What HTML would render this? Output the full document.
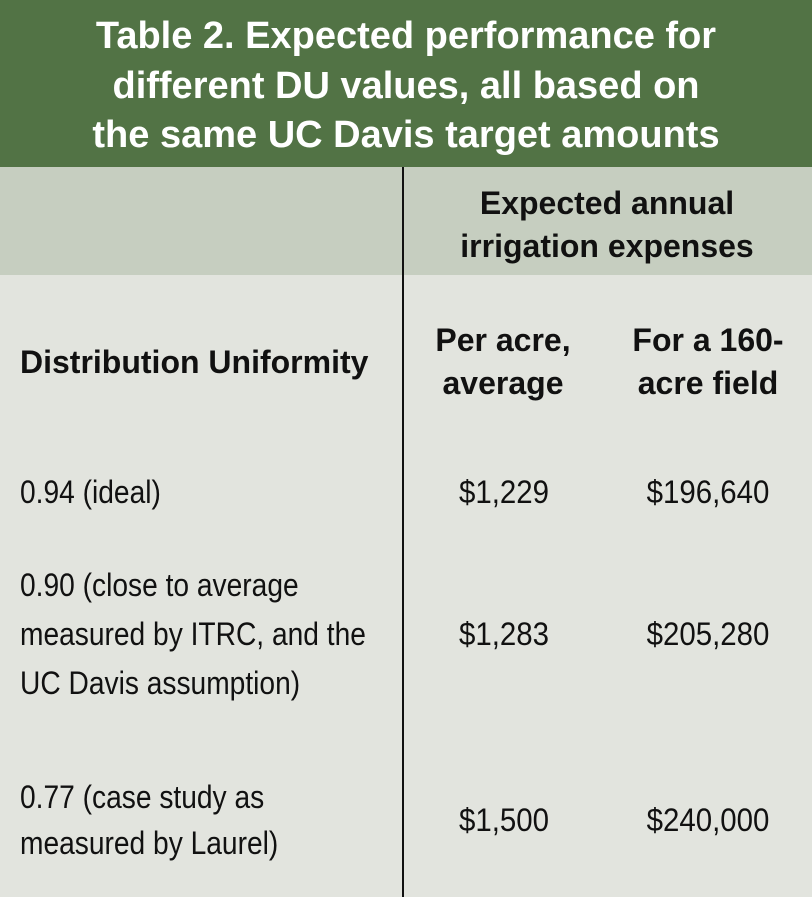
<!DOCTYPE html>
<html><head><meta charset="utf-8"><style>
body{margin:0;width:812px;height:897px;position:relative;overflow:hidden;background:#e2e4de;font-family:"Liberation Sans",sans-serif;}
.t{position:absolute;white-space:nowrap;line-height:1;}
.l{transform-origin:0 50%;transform:translateY(-50%) scaleX(0.88);}
.c{transform:translate(-50%,-50%) scaleX(0.92);}
.b.l{transform:translateY(-50%) scaleX(1.0);}
.b.c{transform:translate(-50%,-50%) scaleX(1.0);}
.b{font-weight:bold;}
.h{font-size:38px;color:#fff;font-weight:bold;}
.h.c{transform:translate(-50%,-50%) scaleX(1.0);}
.s{font-size:32px;color:#111;}
</style></head><body>
<div style="position:absolute;left:0;top:0;width:812px;height:167px;background:#527345"></div>
<div style="position:absolute;left:0;top:167px;width:812px;height:108px;background:#c6cec0"></div>
<div style="position:absolute;left:402px;top:167px;width:2px;height:730px;background:#111"></div>
<div class="t c h" style="left:406px;top:36px">Table 2. Expected performance for</div>
<div class="t c h" style="left:406px;top:86px">different DU values, all based on</div>
<div class="t c h" style="left:406px;top:135px">the same UC Davis target amounts</div>
<div class="t c s b" style="left:607px;top:203px">Expected annual</div>
<div class="t c s b" style="left:607px;top:246px">irrigation expenses</div>
<div class="t l s b" style="left:20px;top:362px">Distribution Uniformity</div>
<div class="t c s b" style="left:503px;top:340px">Per acre,</div>
<div class="t c s b" style="left:503px;top:383px">average</div>
<div class="t c s b" style="left:708px;top:340px">For a 160-</div>
<div class="t c s b" style="left:708px;top:383px">acre field</div>
<div class="t l s" style="left:20px;top:492px">0.94 (ideal)</div>
<div class="t c s" style="left:504px;top:492px">$1,229</div>
<div class="t c s" style="left:708px;top:492px">$196,640</div>
<div class="t l s" style="left:20px;top:585px">0.90 (close to average</div>
<div class="t l s" style="left:20px;top:634px">measured by ITRC, and the</div>
<div class="t l s" style="left:20px;top:683px">UC Davis assumption)</div>
<div class="t c s" style="left:504px;top:634px">$1,283</div>
<div class="t c s" style="left:708px;top:634px">$205,280</div>
<div class="t l s" style="left:20px;top:797px">0.77 (case study as</div>
<div class="t l s" style="left:20px;top:843px">measured by Laurel)</div>
<div class="t c s" style="left:504px;top:820px">$1,500</div>
<div class="t c s" style="left:708px;top:820px">$240,000</div>
</body></html>
